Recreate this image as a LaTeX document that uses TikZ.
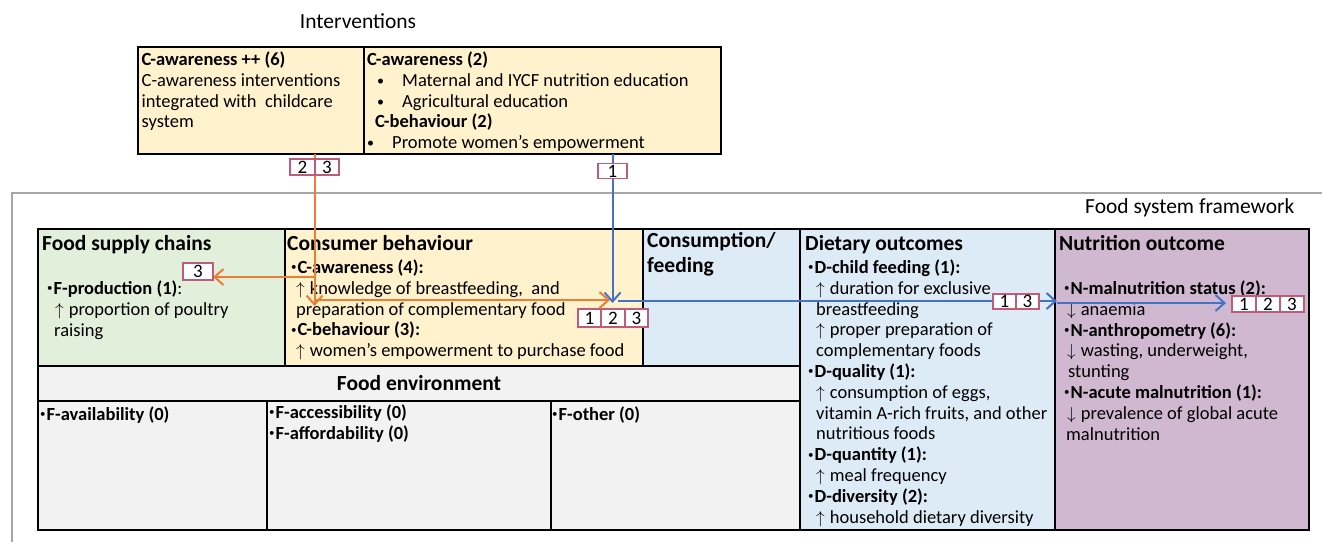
\documentclass[tikz,border=0pt]{standalone}
\usepackage{fontspec}
\setmainfont{Carlito}
\usetikzlibrary{arrows.meta}

\definecolor{yel}{HTML}{FFF2CC}
\definecolor{grn}{HTML}{E2EFDA}
\definecolor{blu}{HTML}{DDEBF7}
\definecolor{mau}{RGB}{208,184,208}
\definecolor{gry}{HTML}{F2F2F2}
\definecolor{frm}{HTML}{A6A6A6}
\definecolor{tagc}{RGB}{190,92,122}
\definecolor{oline}{HTML}{ED7D31}
\definecolor{bline}{HTML}{4472C4}

\newcommand\bodyfont{\fontsize{18.5}{20.8}\selectfont}
\newcommand\headfont{\fontsize{21.5}{25}\selectfont\bfseries}
\newcommand\titlefont{\fontsize{21.5}{25}\selectfont}
\newcommand\tagfont{\fontsize{19}{19}\selectfont}
\newcommand\sbul{{\fontsize{11}{11}\selectfont\raisebox{2.5pt}{•}}\kern1pt}
\newcommand\mbul{{\fontsize{14}{14}\selectfont\raisebox{1pt}{•}}}
\newcommand\uarr{$\uparrow$\hspace{5pt}}
\newcommand\darr{$\downarrow$\hspace{5pt}}

\begin{document}
\begin{tikzpicture}[x=1pt,y=-1pt,
  cell/.style={draw=black, line width=1.6pt, anchor=north west, inner sep=0pt, outer sep=0pt},
  txt/.style={anchor=north west, inner sep=0pt, align=left, font=\bodyfont, execute at begin node={\rule{0pt}{15.5pt}}},
  head/.style={anchor=north west, inner sep=0pt, align=left, font=\headfont, execute at begin node={\rule{0pt}{17pt}}},
  tag/.style={draw=tagc, line width=1.8pt, fill=white, inner sep=0pt, minimum height=16pt, minimum width=24pt, font=\tagfont},
  oarr/.style={draw=oline, line width=2pt, -{Straight Barb[length=9pt,width=16pt]}},
  barr/.style={draw=bline, line width=2pt, -{Straight Barb[length=9pt,width=16pt]}},
]
\useasboundingbox (0,0) rectangle (1322,542);

% framework outline
\draw[frm, line width=2pt] (12,542) -- (12,193) -- (1322,193);
\node[anchor=base east, font=\titlefont] (fsf) at (1298,213) {Food system framework};

% interventions
\node[anchor=base, font=\titlefont] (ttl) at (358,28) {Interventions};
\node[cell, fill=yel, minimum width=226pt, minimum height=107pt] (ibL) at (138,47) {};
\node[cell, fill=yel, minimum width=357pt, minimum height=107pt] (ibR) at (364,47) {};
\node[txt] (ibLt) at (141.5,51.5) {\textbf{C-awareness ++ (6)}\\C-awareness interventions\\integrated with\ \ childcare\\system};
\node[txt] (ibRt) at (367,51.5) {\textbf{C-awareness (2)}\\
\hspace*{10pt}\makebox[25pt][l]{\mbul}Maternal and IYCF nutrition education\\
\hspace*{10pt}\makebox[25pt][l]{\mbul}Agricultural education\\
\hspace*{8pt}\textbf{C-behaviour (2)}\\
\makebox[25pt][l]{\mbul}Promote women's empowerment};

% food system cells
\node[cell, fill=grn, minimum width=247pt, minimum height=137pt] (fsc) at (38,229) {};
\node[cell, fill=yel, minimum width=358pt, minimum height=137pt] (cb) at (285,229) {};
\node[cell, fill=blu, minimum width=157pt, minimum height=137pt] (cf) at (643,229) {};
\node[cell, fill=blu, minimum width=255pt, minimum height=301pt] (do) at (800,229) {};
\node[cell, fill=mau, minimum width=254pt, minimum height=301pt] (no) at (1055,229) {};
\node[cell, fill=gry, minimum width=762pt, minimum height=35pt, font=\headfont] (fe) at (38,366) {Food environment};
\node[cell, fill=gry, minimum width=229pt, minimum height=129pt] (fe1) at (38,401) {};
\node[cell, fill=gry, minimum width=284pt, minimum height=129pt] (fe2) at (267,401) {};
\node[cell, fill=gry, minimum width=249pt, minimum height=129pt] (fe3) at (551,401) {};

% cell texts
\node[head] (fsct) at (42,233) {Food supply chains};
\node[txt] (fsctx) at (47,280.5) {\sbul\textbf{F-production (1)}:\\
\hspace*{8pt}\uarr proportion of poultry\\
\hspace*{7pt}raising};

\node[head] (cbt) at (287,233) {Consumer behaviour};
\node[txt] (cbtx) at (291,259.5) {\sbul\textbf{C-awareness (4):}\\
\hspace*{5pt}\uarr knowledge of breastfeeding,\ \ and\\
\hspace*{5pt}preparation of complementary food\\
\sbul\textbf{C-behaviour (3):}\\
\hspace*{5pt}\uarr women's empowerment to purchase food};

\node[head] (cft) at (647,232) {Consumption/\\feeding};

\node[head] (dot) at (805,233) {Dietary outcomes};
\node[txt] (dotx) at (808,259.5) {\sbul\textbf{D-child feeding (1):}\\
\hspace*{8pt}\uarr duration for exclusive\\
\hspace*{8pt}breastfeeding\\
\hspace*{8pt}\uarr proper preparation of\\
\hspace*{8pt}complementary foods\\
\sbul\textbf{D-quality (1):}\\
\hspace*{8pt}\uarr consumption of eggs,\\
\hspace*{8pt}vitamin A-rich fruits, and other\\
\hspace*{8pt}nutritious foods\\
\sbul\textbf{D-quantity (1):}\\
\hspace*{8pt}\uarr meal frequency\\
\sbul\textbf{D-diversity (2):}\\
\hspace*{8pt}\uarr household dietary diversity};

\node[head] (nott) at (1059,233) {Nutrition outcome};
\node[txt] (notx) at (1064,280.5) {\sbul\textbf{N-malnutrition status (2):}\\
\hspace*{3pt}\darr anaemia\\
\sbul\textbf{N-anthropometry (6):}\\
\hspace*{3pt}\darr wasting, underweight,\\
\hspace*{4pt}stunting\\
\sbul\textbf{N-acute malnutrition (1):}\\
\hspace*{3pt}\darr prevalence of global acute\\
\hspace*{2pt}malnutrition};

\node[txt] (fe1t) at (40,404.5) {\sbul\textbf{F-availability (0)}};
\node[txt] (fe2t) at (269,404.5) {\sbul\textbf{F-accessibility (0)}\\\sbul\textbf{F-affordability (0)}};
\node[txt] (fe3t) at (552,404.5) {\sbul\textbf{F-other (0)}};

% connector end points
\coordinate (oTop) at (314.5,154);
\coordinate (oDown) at (314.5,306);
\coordinate (oLeft) at (314.5,277);
\coordinate (oLeftEnd) at (213,277);
\coordinate (oRight) at (314.5,300);
\coordinate (oRightEnd) at (610,300);
\coordinate (bTop) at (612.5,154);
\coordinate (bDown) at (612.5,303);
\coordinate (bStart) at (618,301);
\coordinate (bMid) at (1057,301);
\coordinate (bMid2) at (1057,303);
\coordinate (bEnd) at (1226,303);

% connectors
\draw[oarr] (oTop) -- (oDown);
\draw[oarr] (oLeft) -- (oLeftEnd);
\draw[oarr] (oRight) -- (oRightEnd);
\draw[barr] (bTop) -- (bDown);
\draw[barr] (bStart) -- (bMid);
\draw[barr] (bMid2) -- (bEnd);

% study tags, drawn over the connectors
\node[tag, minimum width=25pt] (t2a) at (302.5,167) {2};
\node[tag] (t3a) at (327,167) {3};
\node[tag, minimum width=29pt, minimum height=15pt] (t1a) at (612.5,171) {1};
\node[tag, minimum width=30pt, minimum height=17pt] (t3b) at (198,271.5) {3};
\node[tag, minimum width=23.5pt, minimum height=18pt] (t1c) at (589.5,318) {1};
\node[tag, minimum width=23.5pt, minimum height=18pt] (t2c) at (613,318) {2};
\node[tag, minimum width=23.5pt, minimum height=18pt] (t3c) at (636.5,318) {3};
\node[tag, minimum width=23pt, minimum height=15pt] (t1d) at (1004.5,301.5) {1};
\node[tag, minimum width=23pt, minimum height=15pt] (t3d) at (1027.5,301.5) {3};
\node[tag] (t1n) at (1244,304) {1};
\node[tag] (t2n) at (1268,304) {2};
\node[tag] (t3n) at (1292,304) {3};
\end{tikzpicture}
\end{document}
